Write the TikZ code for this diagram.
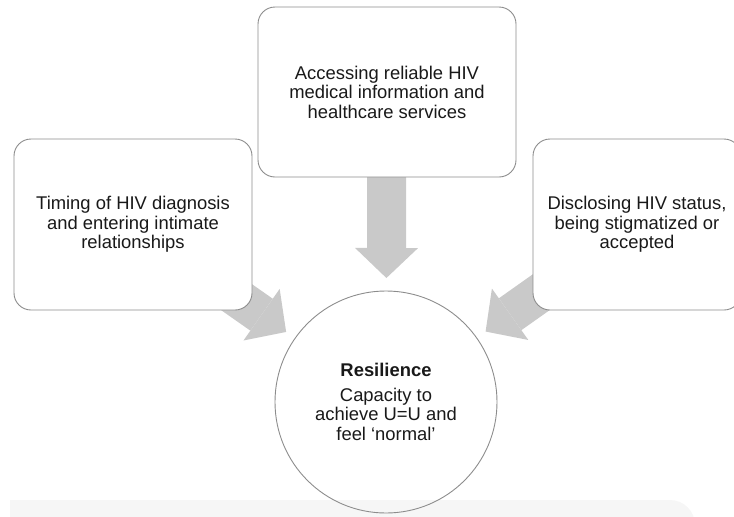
\documentclass[tikz,border=0pt]{standalone}
\usepackage{fontspec}
\setmainfont{Liberation Sans}
\usetikzlibrary{arrows.meta,backgrounds}
\definecolor{boxline}{RGB}{140,140,140}
\definecolor{flowgray}{RGB}{201,201,201}
\definecolor{bandgray}{RGB}{246,246,246}
\definecolor{txt}{RGB}{25,25,25}

\begin{document}
\begin{tikzpicture}[x=1pt, y=-1pt,
    every node/.style={font=\fontsize{18.4}{19.5}\selectfont, text=txt},
    factor/.style={draw=boxline, line width=0.9pt, fill=white, rounded corners=17pt,
                   align=center, inner sep=0pt},
    flow/.style={draw=flowgray, line width=39pt,
                 -{Triangle[length=30pt, width=63pt, line width=0pt]}}]
    \useasboundingbox (0,0) rectangle (734,517);
    \node[factor, minimum width=258pt, minimum height=170pt] (acc) at (387,92)
        {Accessing reliable HIV\\medical information and\\healthcare services};
    \node[factor, minimum width=238pt, minimum height=171pt] (tim) at (133,224.5)
        {Timing of HIV diagnosis\\and entering intimate\\relationships};
    \node[factor, minimum width=208pt, minimum height=171pt] (dis) at (637,224.5)
        {Disclosing HIV status,\\being stigmatized or\\accepted};
    \node[circle, draw=boxline, line width=0.9pt, minimum size=222pt, align=center,
          inner sep=0pt] (res) at (386,402)
        {\textbf{Resilience}\\[5pt]Capacity to\\achieve U=U and\\feel `normal'};
    \begin{scope}[on background layer]
        % pale strip along the foot
        \fill[bandgray] (10,500) -- (670,500) arc[start angle=90, end angle=0, radius=25pt]
            -- (695,530) -- (10,530) -- cycle;
        % block arrows into the circle
        \draw[flow, shorten >=124pt] (acc.center) -- (res.center);
        \draw[flow, shorten >=122pt] (tim.center) -- (res.center);
        \draw[flow, shorten >=122pt] (dis.center) -- (res.center);
    \end{scope}
\end{tikzpicture}
\end{document}
